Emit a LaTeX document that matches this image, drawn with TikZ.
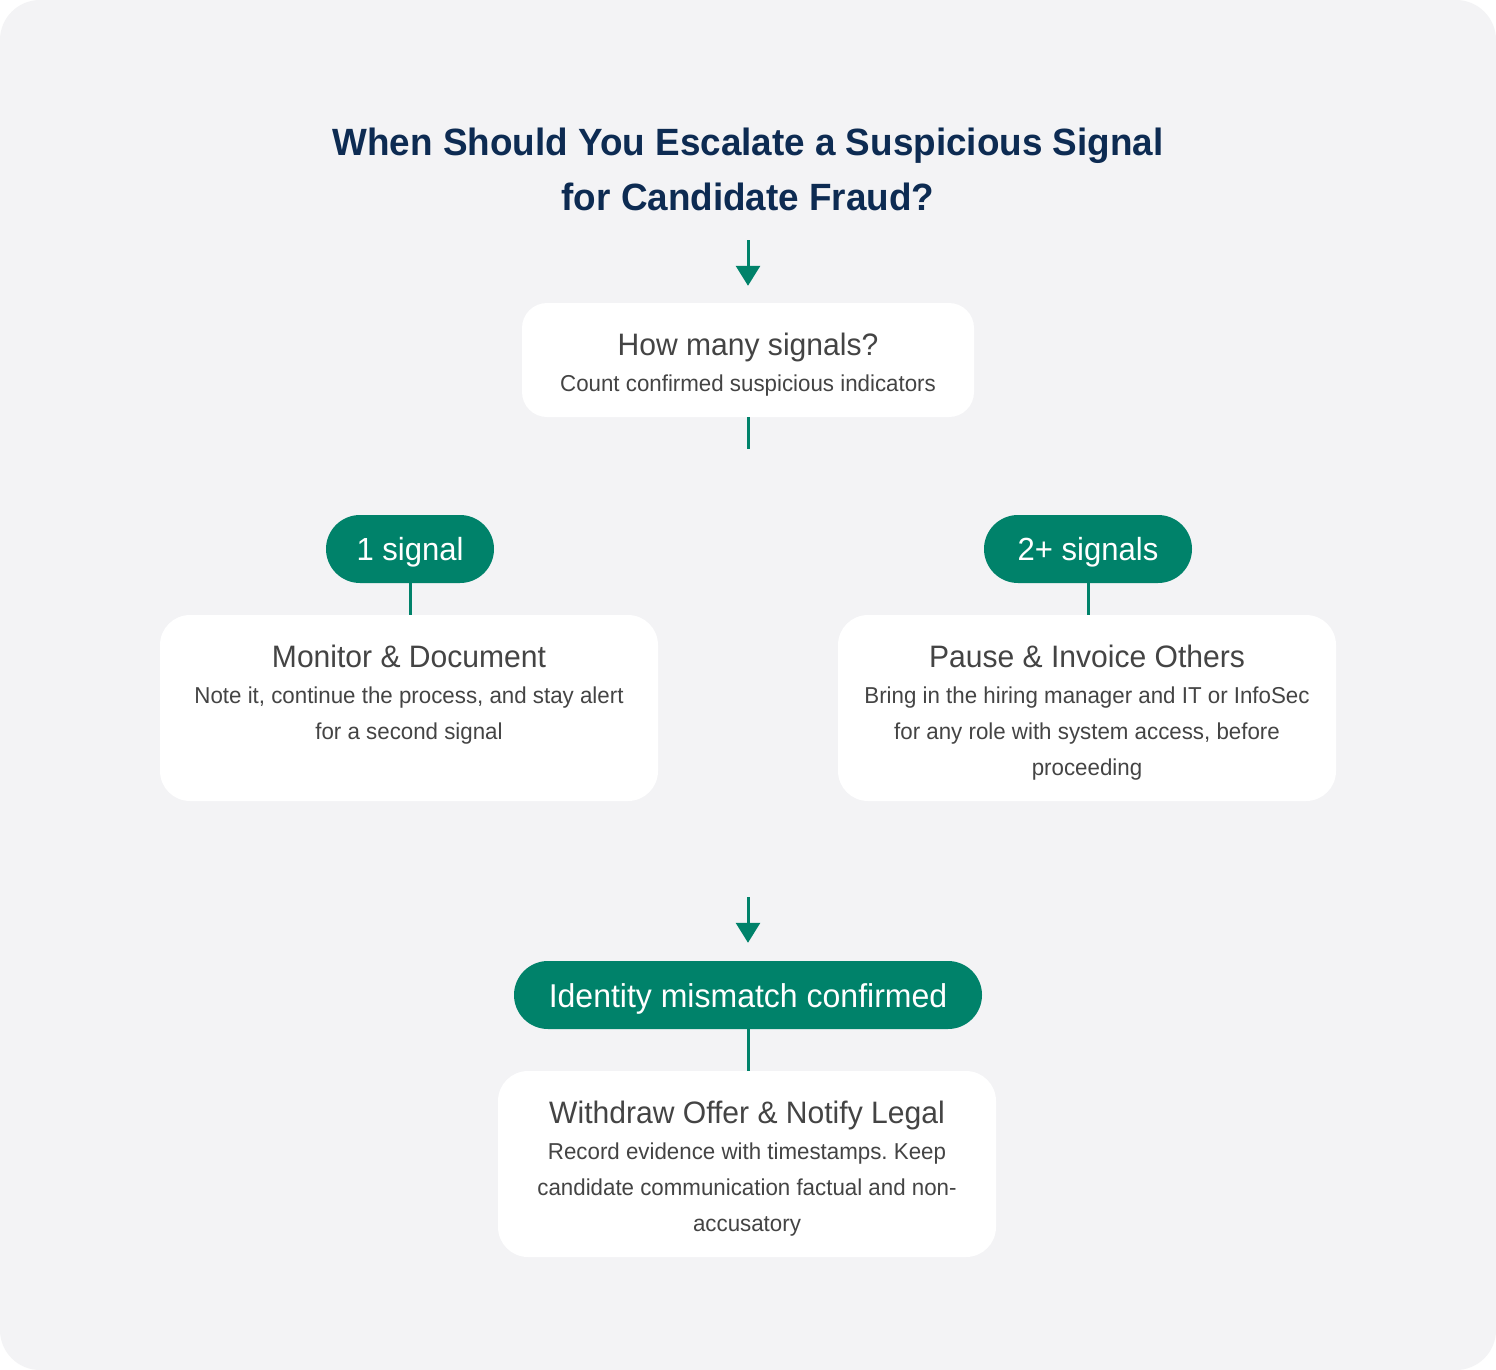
\documentclass[tikz,border=0pt]{standalone}
\usepackage{fontspec}
\setmainfont{Liberation Sans}[FakeStretch=0.97]
\usetikzlibrary{arrows.meta}
\frenchspacing
\definecolor{teal}{HTML}{00826A}
\definecolor{navy}{HTML}{0D2B52}
\definecolor{txt}{HTML}{444444}
\definecolor{bgc}{HTML}{F3F3F5}
\tikzset{
  card/.style={fill=white, draw=none, rounded corners=#1, inner sep=0pt},
  pill/.style={fill=teal, draw=none, rounded corners=34pt, inner sep=0pt},
  ttl/.style={anchor=base, text=navy, font=\fontsize{38}{44}\selectfont\bfseries, inner sep=0pt},
  head/.style={anchor=base, text=txt, font=\fontsize{31}{36}\selectfont, inner sep=0pt},
  body/.style={anchor=base, text=txt, font=\fontsize{23}{28}\selectfont, inner sep=0pt},
  pilltext/.style={anchor=base, text=white, font=\fontsize{32}{38}\selectfont, inner sep=0pt},
  conn/.style={draw=teal, line width=3pt},
  arr/.style={conn, -{Triangle[width=24pt,length=20pt]}},
}
\begin{document}
\begin{tikzpicture}[x=1pt,y=-1pt]
\useasboundingbox (0,0) rectangle (1496,1370);
\fill[white] (0,0) rectangle (1496,1370);
\fill[bgc, rounded corners=40pt] (0,0) rectangle (1496,1370);

% title
\node[ttl] (t1) at (748,155) {When Should You Escalate a Suspicious Signal};
\node[ttl] (t2) at (748,210) {for Candidate Fraud?};

% boxes
\node[card=25pt, minimum width=452pt, minimum height=114pt] (q) at (748,360) {};
\node[head] at (748,355) {How many signals?};
\node[body] at (748,391) {Count confirmed suspicious indicators};

\node[pill, minimum width=168pt, minimum height=68pt] (p1) at (410,549) {};
\node[pilltext] at (410,560) {1 signal};
\node[pill, minimum width=208pt, minimum height=68pt] (p2) at (1088,549) {};
\node[pilltext] at (1088,560) {2+ signals};

\node[card=30pt, minimum width=498pt, minimum height=186pt] (b1) at (409,708) {};
\node[head] at (409,667) {Monitor \& Document};
\node[body] at (409,703) {Note it, continue the process, and stay alert};
\node[body] at (409,739) {for a second signal};

\node[card=30pt, minimum width=498pt, minimum height=186pt] (b2) at (1087,708) {};
\node[head] at (1087,667) {Pause \& Invoice Others};
\node[body] at (1087,703) {Bring in the hiring manager and IT or InfoSec};
\node[body] at (1087,739) {for any role with system access, before};
\node[body] at (1087,775) {proceeding};

\node[pill, minimum width=468pt, minimum height=68pt] (p3) at (748,995) {};
\node[pilltext, font=\fontsize{33}{38}\selectfont] at (748,1007) {Identity mismatch confirmed};

\node[card=30pt, minimum width=498pt, minimum height=186pt] (b3) at (747,1164) {};
\node[head] at (747,1123) {Withdraw Offer \& Notify Legal};
\node[body] at (747,1159) {Record evidence with timestamps. Keep};
\node[body] at (747,1195) {candidate communication factual and non-};
\node[body] at (747,1231) {accusatory};

% connectors
\coordinate (a1s) at (748,240);
\coordinate (qs) at (748,449);
\coordinate (a2s) at (748,897);
\draw[arr, shorten >=17pt] (a1s) -- (q.north);
\draw[conn] (q.south) -- (qs);
\draw[conn] (p1.south) -- (b1.north -| p1.south);
\draw[conn] (p2.south) -- (b2.north -| p2.south);
\draw[arr, shorten >=18pt] (a2s) -- (p3.north);
\draw[conn] (p3.south) -- (b3.north -| p3.south);
\end{tikzpicture}
\end{document}
